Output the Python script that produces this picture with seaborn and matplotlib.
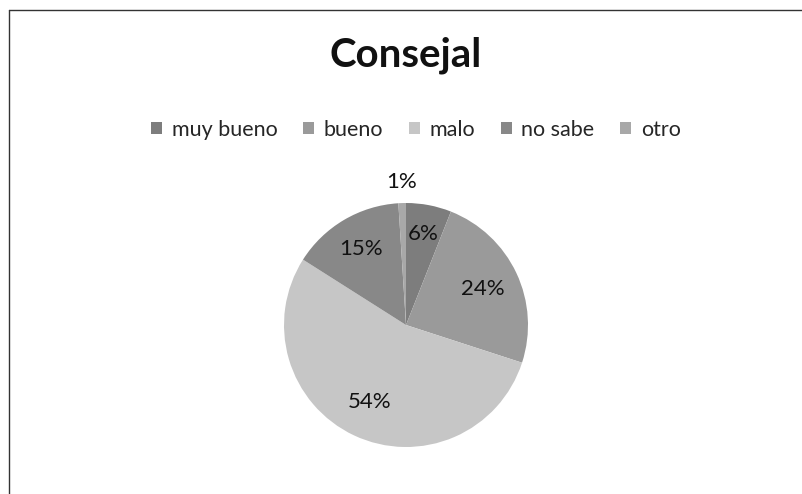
import numpy as np
import matplotlib
matplotlib.use("Agg")
import matplotlib.pyplot as plt
import seaborn as sns
from matplotlib.patches import Patch
from matplotlib.lines import Line2D

categories = ["muy bueno", "bueno", "malo", "no sabe", "otro"]
values = [6, 24, 54, 15, 1]
labels = ["6%", "24%", "54%", "15%", "1%"]

sns.set_theme(style="white")
plt.rcParams['font.family'] = ['Lato', 'DejaVu Sans']

colors = ["#7d7d7d", "#9a9a9a", "#c6c6c6", "#888888", "#a8a8a8"]
label_r = [0.76, 0.70, 0.70, 0.72, 1.17]

W, H = 802, 494
fig = plt.figure(figsize=(W / 100, H / 100), dpi=100)
fig.patch.set_facecolor("white")

cx, cy, R = 406, 325, 122
ax = fig.add_axes([(cx - R) / W, (H - cy - R) / H, 2 * R / W, 2 * R / H])
wedges, _ = ax.pie(values, colors=colors, startangle=90, counterclock=False,
                   radius=1, wedgeprops=dict(linewidth=0))
ax.set_xlim(-1, 1)
ax.set_ylim(-1, 1)
ax.set_aspect("equal")
ax.axis("off")

for w, lab, r in zip(wedges, labels, label_r):
    mid = np.deg2rad((w.theta1 + w.theta2) / 2)
    ax.text(r * np.cos(mid), r * np.sin(mid), lab, ha="center", va="center",
            fontsize=16, color="#111111", clip_on=False)

fig.text(406 / W, 1 - 55 / H, "Consejal", ha="center", va="center",
         fontsize=29, fontweight="bold", color="#111111")

handles = [Patch(facecolor=c, edgecolor="none") for c in colors]
fig.legend(handles, categories, loc="center", bbox_to_anchor=(416 / W, 1 - 130 / H),
           ncol=5, frameon=False, fontsize=15.5, handlelength=0.5, handleheight=0.5,
           handletextpad=0.45, columnspacing=1.2, borderpad=0, borderaxespad=0)

fig.add_artist(Line2D([9 / W, 1.0], [1 - 10 / H, 1 - 10 / H], color="#333333", lw=1))
fig.add_artist(Line2D([9 / W, 9 / W], [0, 1 - 10 / H], color="#333333", lw=1))

fig.savefig("out.png", dpi=100, facecolor="white")
